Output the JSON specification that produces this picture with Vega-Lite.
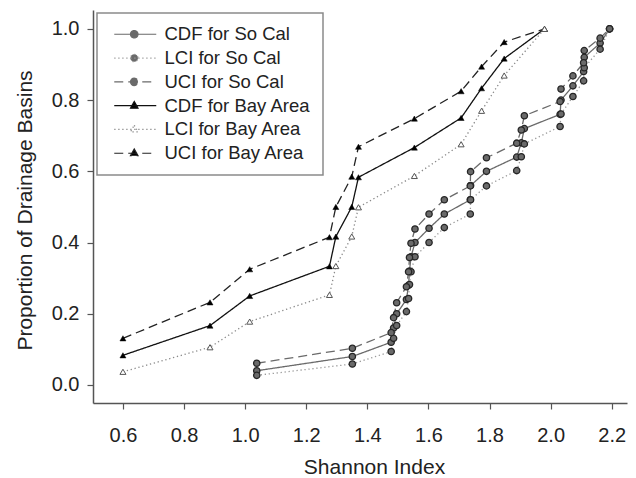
{
  "$schema": "https://vega.github.io/schema/vega-lite/v6.json",
  "autosize": {"type": "none"},
  "padding": {"left": 93, "top": 10, "right": 9, "bottom": 75},
  "width": 534,
  "height": 393,
  "background": "white",
  "config": {
    "view": {"stroke": null},
    "font": "Liberation Sans",
    "axis": {
      "grid": false,
      "domainColor": "#555555",
      "domainWidth": 1.5,
      "tickColor": "#555555",
      "tickWidth": 1.2,
      "tickSize": 6,
      "labelFont": "Liberation Sans",
      "labelFontSize": 20,
      "labelColor": "#222222",
      "titleFont": "Liberation Sans",
      "titleFontSize": 21,
      "titleFontWeight": "normal",
      "titleColor": "#222222"
    }
  },
  "data": {
    "values": [
      {"series": "CDF for So Cal", "region": "So Cal", "stat": "CDF", "k": 1, "x": 1.038, "y": 0.04},
      {"series": "CDF for So Cal", "region": "So Cal", "stat": "CDF", "k": 2, "x": 1.351, "y": 0.08},
      {"series": "CDF for So Cal", "region": "So Cal", "stat": "CDF", "k": 3, "x": 1.478, "y": 0.12},
      {"series": "CDF for So Cal", "region": "So Cal", "stat": "CDF", "k": 4, "x": 1.486, "y": 0.16},
      {"series": "CDF for So Cal", "region": "So Cal", "stat": "CDF", "k": 5, "x": 1.496, "y": 0.20},
      {"series": "CDF for So Cal", "region": "So Cal", "stat": "CDF", "k": 6, "x": 1.528, "y": 0.24},
      {"series": "CDF for So Cal", "region": "So Cal", "stat": "CDF", "k": 7, "x": 1.535, "y": 0.28},
      {"series": "CDF for So Cal", "region": "So Cal", "stat": "CDF", "k": 8, "x": 1.538, "y": 0.32},
      {"series": "CDF for So Cal", "region": "So Cal", "stat": "CDF", "k": 9, "x": 1.543, "y": 0.36},
      {"series": "CDF for So Cal", "region": "So Cal", "stat": "CDF", "k": 10, "x": 1.556, "y": 0.40},
      {"series": "CDF for So Cal", "region": "So Cal", "stat": "CDF", "k": 11, "x": 1.602, "y": 0.44},
      {"series": "CDF for So Cal", "region": "So Cal", "stat": "CDF", "k": 12, "x": 1.652, "y": 0.48},
      {"series": "CDF for So Cal", "region": "So Cal", "stat": "CDF", "k": 13, "x": 1.737, "y": 0.52},
      {"series": "CDF for So Cal", "region": "So Cal", "stat": "CDF", "k": 14, "x": 1.738, "y": 0.56},
      {"series": "CDF for So Cal", "region": "So Cal", "stat": "CDF", "k": 15, "x": 1.790, "y": 0.60},
      {"series": "CDF for So Cal", "region": "So Cal", "stat": "CDF", "k": 16, "x": 1.889, "y": 0.64},
      {"series": "CDF for So Cal", "region": "So Cal", "stat": "CDF", "k": 17, "x": 1.904, "y": 0.68},
      {"series": "CDF for So Cal", "region": "So Cal", "stat": "CDF", "k": 18, "x": 1.914, "y": 0.72},
      {"series": "CDF for So Cal", "region": "So Cal", "stat": "CDF", "k": 19, "x": 2.031, "y": 0.76},
      {"series": "CDF for So Cal", "region": "So Cal", "stat": "CDF", "k": 20, "x": 2.034, "y": 0.80},
      {"series": "CDF for So Cal", "region": "So Cal", "stat": "CDF", "k": 21, "x": 2.073, "y": 0.84},
      {"series": "CDF for So Cal", "region": "So Cal", "stat": "CDF", "k": 22, "x": 2.108, "y": 0.88},
      {"series": "CDF for So Cal", "region": "So Cal", "stat": "CDF", "k": 23, "x": 2.110, "y": 0.92},
      {"series": "CDF for So Cal", "region": "So Cal", "stat": "CDF", "k": 24, "x": 2.162, "y": 0.96},
      {"series": "CDF for So Cal", "region": "So Cal", "stat": "CDF", "k": 25, "x": 2.193, "y": 1.0},

      {"series": "LCI for So Cal", "region": "So Cal", "stat": "LCI", "k": 1, "x": 1.038, "y": 0.027},
      {"series": "LCI for So Cal", "region": "So Cal", "stat": "LCI", "k": 2, "x": 1.351, "y": 0.059},
      {"series": "LCI for So Cal", "region": "So Cal", "stat": "LCI", "k": 3, "x": 1.478, "y": 0.094},
      {"series": "LCI for So Cal", "region": "So Cal", "stat": "LCI", "k": 4, "x": 1.486, "y": 0.131},
      {"series": "LCI for So Cal", "region": "So Cal", "stat": "LCI", "k": 5, "x": 1.496, "y": 0.167},
      {"series": "LCI for So Cal", "region": "So Cal", "stat": "LCI", "k": 6, "x": 1.528, "y": 0.206},
      {"series": "LCI for So Cal", "region": "So Cal", "stat": "LCI", "k": 7, "x": 1.535, "y": 0.243},
      {"series": "LCI for So Cal", "region": "So Cal", "stat": "LCI", "k": 8, "x": 1.538, "y": 0.282},
      {"series": "LCI for So Cal", "region": "So Cal", "stat": "LCI", "k": 9, "x": 1.543, "y": 0.318},
      {"series": "LCI for So Cal", "region": "So Cal", "stat": "LCI", "k": 10, "x": 1.556, "y": 0.36},
      {"series": "LCI for So Cal", "region": "So Cal", "stat": "LCI", "k": 11, "x": 1.602, "y": 0.40},
      {"series": "LCI for So Cal", "region": "So Cal", "stat": "LCI", "k": 12, "x": 1.652, "y": 0.442},
      {"series": "LCI for So Cal", "region": "So Cal", "stat": "LCI", "k": 13, "x": 1.737, "y": 0.48},
      {"series": "LCI for So Cal", "region": "So Cal", "stat": "LCI", "k": 14, "x": 1.738, "y": 0.52},
      {"series": "LCI for So Cal", "region": "So Cal", "stat": "LCI", "k": 15, "x": 1.790, "y": 0.559},
      {"series": "LCI for So Cal", "region": "So Cal", "stat": "LCI", "k": 16, "x": 1.889, "y": 0.602},
      {"series": "LCI for So Cal", "region": "So Cal", "stat": "LCI", "k": 17, "x": 1.904, "y": 0.641},
      {"series": "LCI for So Cal", "region": "So Cal", "stat": "LCI", "k": 18, "x": 1.914, "y": 0.677},
      {"series": "LCI for So Cal", "region": "So Cal", "stat": "LCI", "k": 19, "x": 2.031, "y": 0.726},
      {"series": "LCI for So Cal", "region": "So Cal", "stat": "LCI", "k": 20, "x": 2.034, "y": 0.761},
      {"series": "LCI for So Cal", "region": "So Cal", "stat": "LCI", "k": 21, "x": 2.073, "y": 0.81},
      {"series": "LCI for So Cal", "region": "So Cal", "stat": "LCI", "k": 22, "x": 2.108, "y": 0.854},
      {"series": "LCI for So Cal", "region": "So Cal", "stat": "LCI", "k": 23, "x": 2.110, "y": 0.891},
      {"series": "LCI for So Cal", "region": "So Cal", "stat": "LCI", "k": 24, "x": 2.162, "y": 0.943},
      {"series": "LCI for So Cal", "region": "So Cal", "stat": "LCI", "k": 25, "x": 2.193, "y": 1.0},

      {"series": "UCI for So Cal", "region": "So Cal", "stat": "UCI", "k": 1, "x": 1.038, "y": 0.061},
      {"series": "UCI for So Cal", "region": "So Cal", "stat": "UCI", "k": 2, "x": 1.351, "y": 0.103},
      {"series": "UCI for So Cal", "region": "So Cal", "stat": "UCI", "k": 3, "x": 1.478, "y": 0.147},
      {"series": "UCI for So Cal", "region": "So Cal", "stat": "UCI", "k": 4, "x": 1.486, "y": 0.189},
      {"series": "UCI for So Cal", "region": "So Cal", "stat": "UCI", "k": 5, "x": 1.496, "y": 0.231},
      {"series": "UCI for So Cal", "region": "So Cal", "stat": "UCI", "k": 6, "x": 1.528, "y": 0.276},
      {"series": "UCI for So Cal", "region": "So Cal", "stat": "UCI", "k": 7, "x": 1.535, "y": 0.318},
      {"series": "UCI for So Cal", "region": "So Cal", "stat": "UCI", "k": 8, "x": 1.538, "y": 0.358},
      {"series": "UCI for So Cal", "region": "So Cal", "stat": "UCI", "k": 9, "x": 1.543, "y": 0.398},
      {"series": "UCI for So Cal", "region": "So Cal", "stat": "UCI", "k": 10, "x": 1.556, "y": 0.438},
      {"series": "UCI for So Cal", "region": "So Cal", "stat": "UCI", "k": 11, "x": 1.602, "y": 0.48},
      {"series": "UCI for So Cal", "region": "So Cal", "stat": "UCI", "k": 12, "x": 1.652, "y": 0.52},
      {"series": "UCI for So Cal", "region": "So Cal", "stat": "UCI", "k": 13, "x": 1.737, "y": 0.559},
      {"series": "UCI for So Cal", "region": "So Cal", "stat": "UCI", "k": 14, "x": 1.738, "y": 0.599},
      {"series": "UCI for So Cal", "region": "So Cal", "stat": "UCI", "k": 15, "x": 1.790, "y": 0.638},
      {"series": "UCI for So Cal", "region": "So Cal", "stat": "UCI", "k": 16, "x": 1.889, "y": 0.679},
      {"series": "UCI for So Cal", "region": "So Cal", "stat": "UCI", "k": 17, "x": 1.904, "y": 0.716},
      {"series": "UCI for So Cal", "region": "So Cal", "stat": "UCI", "k": 18, "x": 1.914, "y": 0.756},
      {"series": "UCI for So Cal", "region": "So Cal", "stat": "UCI", "k": 19, "x": 2.031, "y": 0.796},
      {"series": "UCI for So Cal", "region": "So Cal", "stat": "UCI", "k": 20, "x": 2.034, "y": 0.831},
      {"series": "UCI for So Cal", "region": "So Cal", "stat": "UCI", "k": 21, "x": 2.073, "y": 0.868},
      {"series": "UCI for So Cal", "region": "So Cal", "stat": "UCI", "k": 22, "x": 2.108, "y": 0.905},
      {"series": "UCI for So Cal", "region": "So Cal", "stat": "UCI", "k": 23, "x": 2.110, "y": 0.939},
      {"series": "UCI for So Cal", "region": "So Cal", "stat": "UCI", "k": 24, "x": 2.162, "y": 0.974},
      {"series": "UCI for So Cal", "region": "So Cal", "stat": "UCI", "k": 25, "x": 2.193, "y": 1.0},

      {"series": "CDF for Bay Area", "region": "Bay Area", "stat": "CDF", "k": 1, "x": 0.6, "y": 0.0833},
      {"series": "CDF for Bay Area", "region": "Bay Area", "stat": "CDF", "k": 2, "x": 0.885, "y": 0.1667},
      {"series": "CDF for Bay Area", "region": "Bay Area", "stat": "CDF", "k": 3, "x": 1.015, "y": 0.25},
      {"series": "CDF for Bay Area", "region": "Bay Area", "stat": "CDF", "k": 4, "x": 1.276, "y": 0.3333},
      {"series": "CDF for Bay Area", "region": "Bay Area", "stat": "CDF", "k": 5, "x": 1.297, "y": 0.4167},
      {"series": "CDF for Bay Area", "region": "Bay Area", "stat": "CDF", "k": 6, "x": 1.349, "y": 0.5},
      {"series": "CDF for Bay Area", "region": "Bay Area", "stat": "CDF", "k": 7, "x": 1.371, "y": 0.5833},
      {"series": "CDF for Bay Area", "region": "Bay Area", "stat": "CDF", "k": 8, "x": 1.554, "y": 0.6667},
      {"series": "CDF for Bay Area", "region": "Bay Area", "stat": "CDF", "k": 9, "x": 1.707, "y": 0.75},
      {"series": "CDF for Bay Area", "region": "Bay Area", "stat": "CDF", "k": 10, "x": 1.774, "y": 0.8333},
      {"series": "CDF for Bay Area", "region": "Bay Area", "stat": "CDF", "k": 11, "x": 1.848, "y": 0.9167},
      {"series": "CDF for Bay Area", "region": "Bay Area", "stat": "CDF", "k": 12, "x": 1.98, "y": 1.0},

      {"series": "LCI for Bay Area", "region": "Bay Area", "stat": "LCI", "k": 1, "x": 0.6, "y": 0.037},
      {"series": "LCI for Bay Area", "region": "Bay Area", "stat": "LCI", "k": 2, "x": 0.885, "y": 0.106},
      {"series": "LCI for Bay Area", "region": "Bay Area", "stat": "LCI", "k": 3, "x": 1.015, "y": 0.178},
      {"series": "LCI for Bay Area", "region": "Bay Area", "stat": "LCI", "k": 4, "x": 1.276, "y": 0.253},
      {"series": "LCI for Bay Area", "region": "Bay Area", "stat": "LCI", "k": 5, "x": 1.297, "y": 0.334},
      {"series": "LCI for Bay Area", "region": "Bay Area", "stat": "LCI", "k": 6, "x": 1.349, "y": 0.417},
      {"series": "LCI for Bay Area", "region": "Bay Area", "stat": "LCI", "k": 7, "x": 1.371, "y": 0.499},
      {"series": "LCI for Bay Area", "region": "Bay Area", "stat": "LCI", "k": 8, "x": 1.554, "y": 0.587},
      {"series": "LCI for Bay Area", "region": "Bay Area", "stat": "LCI", "k": 9, "x": 1.707, "y": 0.676},
      {"series": "LCI for Bay Area", "region": "Bay Area", "stat": "LCI", "k": 10, "x": 1.774, "y": 0.770},
      {"series": "LCI for Bay Area", "region": "Bay Area", "stat": "LCI", "k": 11, "x": 1.848, "y": 0.869},
      {"series": "LCI for Bay Area", "region": "Bay Area", "stat": "LCI", "k": 12, "x": 1.98, "y": 1.0},

      {"series": "UCI for Bay Area", "region": "Bay Area", "stat": "UCI", "k": 1, "x": 0.6, "y": 0.131},
      {"series": "UCI for Bay Area", "region": "Bay Area", "stat": "UCI", "k": 2, "x": 0.885, "y": 0.232},
      {"series": "UCI for Bay Area", "region": "Bay Area", "stat": "UCI", "k": 3, "x": 1.015, "y": 0.325},
      {"series": "UCI for Bay Area", "region": "Bay Area", "stat": "UCI", "k": 4, "x": 1.276, "y": 0.415},
      {"series": "UCI for Bay Area", "region": "Bay Area", "stat": "UCI", "k": 5, "x": 1.297, "y": 0.50},
      {"series": "UCI for Bay Area", "region": "Bay Area", "stat": "UCI", "k": 6, "x": 1.349, "y": 0.585},
      {"series": "UCI for Bay Area", "region": "Bay Area", "stat": "UCI", "k": 7, "x": 1.371, "y": 0.669},
      {"series": "UCI for Bay Area", "region": "Bay Area", "stat": "UCI", "k": 8, "x": 1.554, "y": 0.748},
      {"series": "UCI for Bay Area", "region": "Bay Area", "stat": "UCI", "k": 9, "x": 1.707, "y": 0.825},
      {"series": "UCI for Bay Area", "region": "Bay Area", "stat": "UCI", "k": 10, "x": 1.774, "y": 0.894},
      {"series": "UCI for Bay Area", "region": "Bay Area", "stat": "UCI", "k": 11, "x": 1.848, "y": 0.963},
      {"series": "UCI for Bay Area", "region": "Bay Area", "stat": "UCI", "k": 12, "x": 1.98, "y": 1.0}
    ]
  },
  "encoding": {
    "x": {
      "field": "x", "type": "quantitative",
      "scale": {"domain": [0.502, 2.25], "nice": false, "zero": false},
      "axis": {"title": "Shannon Index", "values": [0.6, 0.8, 1.0, 1.2, 1.4, 1.6, 1.8, 2.0, 2.2], "format": ".1f", "labelPadding": 16, "titlePadding": 11, "titleX": 281, "labelFlush": false}
    },
    "y": {
      "field": "y", "type": "quantitative",
      "scale": {"domain": [-0.0506, 1.053], "nice": false, "zero": false},
      "axis": {"title": "Proportion of Drainage Basins", "values": [0, 0.2, 0.4, 0.6, 0.8, 1.0], "format": ".1f", "labelPadding": 8, "titlePadding": 16, "titleY": 200, "labelFlush": false}
    }
  },
  "layer": [
    {
      "mark": {"type": "line", "strokeWidth": 1.3},
      "encoding": {
        "order": {"field": "k", "type": "quantitative"},
        "color": {
          "field": "series", "type": "nominal",
          "scale": {
            "domain": ["CDF for So Cal", "LCI for So Cal", "UCI for So Cal", "CDF for Bay Area", "LCI for Bay Area", "UCI for Bay Area"],
            "range": ["#6a6a6a", "#9a9a9a", "#6a6a6a", "#111111", "#8a8a8a", "#222222"]
          },
          "legend": {
            "title": null,
            "orient": "none",
            "legendX": 4,
            "legendY": 3,
            "padding": 12,
            "strokeColor": "#8a8a8a",
            "fillColor": "white",
            "labelFont": "Liberation Sans",
            "labelFontSize": 18.5,
            "labelColor": "#222222",
            "labelOffset": 37,
            "rowPadding": 4.8,
            "symbolSize": 100,
            "symbolStrokeWidth": 1.2,
            "encode": {
              "legend": {"update": {"strokeWidth": {"value": 1.5}}},
              "symbols": {
                "update": {
                  "shape": {"signal": "indexof(datum.value, 'So Cal') >= 0 ? 'M-0.8,0H7.6M2.45,0A0.75,0.75 0 1,0 3.95,0A0.75,0.75 0 1,0 2.45,0Z' : 'M-0.8,0H7.6M3.2,-0.85L3.95,0.5L2.45,0.5Z'"},
                  "fill": {"signal": "indexof(datum.value, 'So Cal') >= 0 ? '#6a6a6a' : (indexof(datum.value, 'LCI') >= 0 ? 'white' : 'black')"}
                }
              }
            }
          }
        },
        "strokeDash": {
          "field": "series", "type": "nominal",
          "scale": {
            "domain": ["CDF for So Cal", "LCI for So Cal", "UCI for So Cal", "CDF for Bay Area", "LCI for Bay Area", "UCI for Bay Area"],
            "range": [[1, 0], [1.3, 2.7], [9, 5], [1, 0], [1.3, 2.7], [9, 5]]
          },
          "legend": null
        }
      }
    },
    {
      "transform": [{"filter": "datum.region === 'So Cal'"}],
      "mark": {"type": "point", "shape": "circle", "filled": true, "fill": "#6a6a6a", "stroke": "#262626", "strokeWidth": 1.3, "size": 40, "opacity": 1},
      "encoding": {}
    },
    {
      "transform": [{"filter": "datum.region === 'Bay Area' && datum.stat !== 'LCI'"}],
      "mark": {"type": "point", "shape": "triangle-up", "filled": true, "fill": "black", "stroke": "black", "strokeWidth": 0.5, "size": 36, "opacity": 1},
      "encoding": {}
    },
    {
      "transform": [{"filter": "datum.region === 'Bay Area' && datum.stat === 'LCI'"}],
      "mark": {"type": "point", "shape": "triangle-up", "filled": false, "fill": "white", "fillOpacity": 1, "stroke": "#555555", "strokeWidth": 1, "size": 36, "opacity": 1},
      "encoding": {}
    }
  ]
}
